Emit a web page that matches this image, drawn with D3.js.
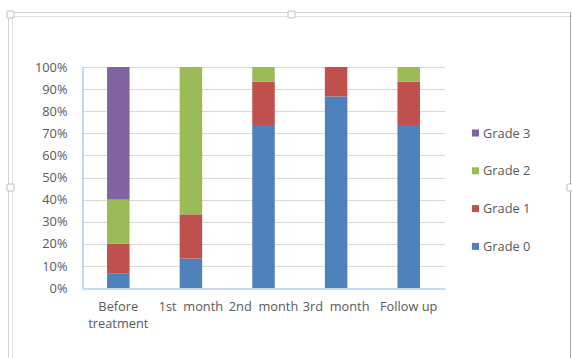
<!DOCTYPE html>
<html>
<head>
<meta charset="utf-8">
<script src="https://cdn.jsdelivr.net/npm/d3@7"></script>
<style>
  html, body { margin: 0; padding: 0; background: #fff; }
  svg { display: block; }
  text { font-family: "Open Sans", Lato, sans-serif; fill: #595959; }
</style>
</head>
<body>
<svg id="chart" width="572" height="358"></svg>
<script>
// Share of patients by grade at each visit (percent of group)
const categories = ["Before treatment", "1st  month", "2nd  month", "3rd  month", "Follow up"];
const grades = ["Grade 0", "Grade 1", "Grade 2", "Grade 3"];
const grade0 = [6.67, 13.33, 73.33, 86.67, 73.33];
const grade1 = [13.33, 20.0, 20.0, 13.33, 20.0];
const grade2 = [20.0, 66.67, 6.67, 0, 6.67];
const grade3 = [60.0, 0, 0, 0, 0];
const yTicks = [0, 10, 20, 30, 40, 50, 60, 70, 80, 90, 100];
const colors = ["#4F81BD", "#C0504D", "#9BBB59", "#8064A2"];

const FONT = 12.8;

const rows = categories.map((c, i) => ({
  cat: c,
  "Grade 0": grade0[i], "Grade 1": grade1[i], "Grade 2": grade2[i], "Grade 3": grade3[i]
}));
const stacked = d3.stack().keys(grades)(rows);

const svg = d3.select("#chart");

// Chart object frame with selection handles
const frame = svg.append("g");
frame.append("rect").attr("x", 8.5).attr("y", 12.5).attr("width", 600).attr("height", 400)
  .attr("fill", "none").attr("stroke", "#d4d4d4").attr("stroke-width", 1);
frame.append("rect").attr("x", 12.5).attr("y", 16.5).attr("width", 600).attr("height", 400)
  .attr("fill", "none").attr("stroke", "#e2e2e2").attr("stroke-width", 1);
frame.append("line").attr("x1", 570.5).attr("x2", 570.5).attr("y1", 13).attr("y2", 358)
  .attr("stroke", "#a6a6a6");
[[10.5, 14.5], [291.5, 14.5], [10.5, 187.5], [570.5, 187.5]].forEach(([cx, cy]) => {
  frame.append("rect").attr("x", cx - 3.5).attr("y", cy - 3.5).attr("width", 7).attr("height", 7)
    .attr("rx", 1).attr("fill", "#fff").attr("stroke", "#bdbdbd");
});

const plot = { left: 82, right: 445, top: 67, bottom: 288 };

const x = d3.scaleBand().domain(categories).range([plot.left, plot.right])
  .paddingInner(0.69).paddingOuter(0.345);
const y = d3.scaleLinear().domain([0, 100]).range([plot.bottom, plot.top]);

// Gridlines
svg.append("g")
  .selectAll("line").data(yTicks.filter(t => t > 0)).join("line")
  .attr("x1", plot.left).attr("x2", plot.right)
  .attr("y1", d => Math.round(y(d)) + 0.5).attr("y2", d => Math.round(y(d)) + 0.5)
  .attr("stroke", "#d9d9d9").attr("stroke-width", 1);

// Y axis
const yAxis = svg.append("g").attr("transform", `translate(${plot.left + 0.5},0)`)
  .call(d3.axisLeft(y).tickValues(yTicks).tickFormat(d => d + "%").tickSize(0).tickPadding(15));
yAxis.select(".domain").attr("stroke", "#8EB4E3");
yAxis.selectAll("text").attr("font-size", FONT).style("fill", "#595959")
  .style("font-family", "'Open Sans', sans-serif");

// Bars
svg.append("g").selectAll("g").data(stacked).join("g")
  .attr("fill", (d, i) => colors[i])
  .selectAll("rect").data(d => d).join("rect")
  .attr("x", d => x(d.data.cat))
  .attr("width", x.bandwidth())
  .attr("y", d => y(d[1]))
  .attr("height", d => y(d[0]) - y(d[1]));

// X axis
const xAxis = svg.append("g").attr("transform", `translate(0,${plot.bottom + 0.5})`)
  .call(d3.axisBottom(x).tickSize(0).tickPadding(0).tickFormat(""));
xAxis.select(".domain").attr("stroke", "#8EB4E3");
xAxis.selectAll(".tick").each(function (d) {
  const t = d3.select(this).append("text").attr("text-anchor", "middle")
    .attr("font-size", FONT).style("fill", "#595959").attr("xml:space", "preserve");
  const lines = d === "Before treatment" ? ["Before", "treatment"] : [d];
  lines.forEach((ln, k) => {
    t.append("tspan").attr("x", 0).attr("y", 22.5 + k * 16.5).text(ln);
  });
});

// Legend
const legend = svg.append("g");
const legendItems = grades.slice().reverse();
legendItems.forEach((g, k) => {
  const cy = 133 + k * 37.8;
  const gi = grades.indexOf(g);
  legend.append("rect").attr("x", 472).attr("y", cy - 3.5).attr("width", 7).attr("height", 7)
    .attr("fill", colors[gi]);
  legend.append("text").attr("x", 483).attr("y", cy + 4.5).attr("font-size", FONT).text(g);
});
</script>
</body>
</html>
